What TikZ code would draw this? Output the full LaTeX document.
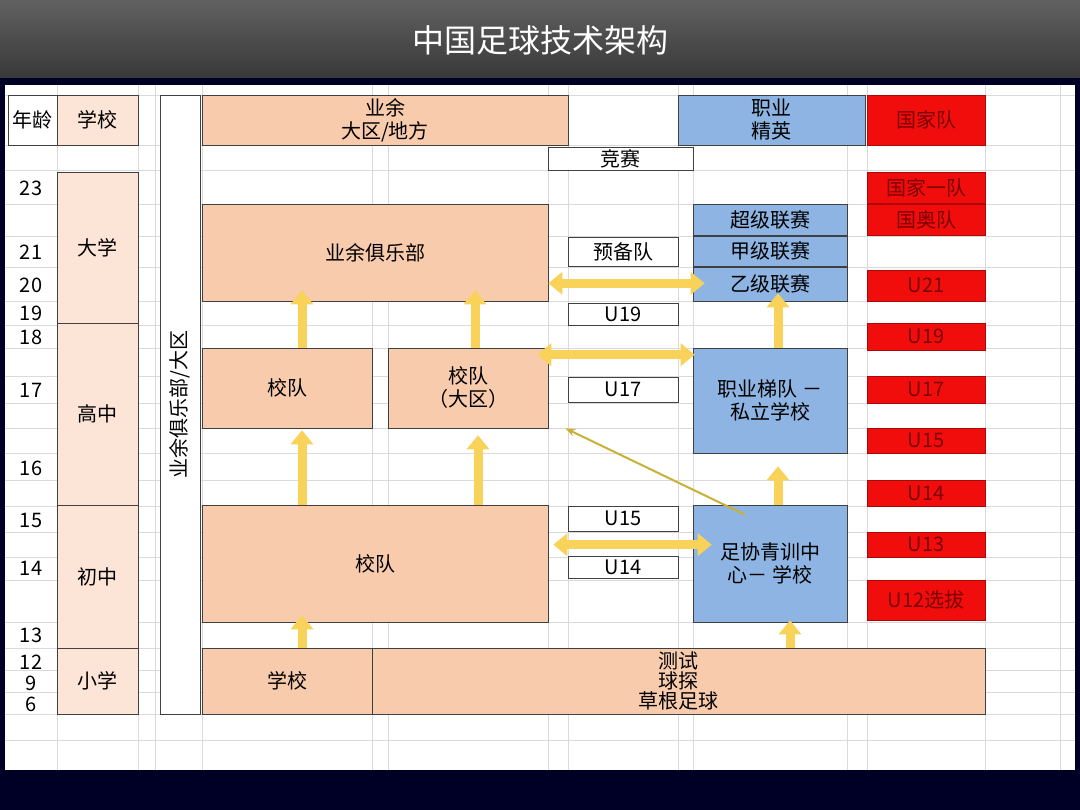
\documentclass[tikz,border=0pt]{standalone}
\usepackage{fontspec}
\newfontfamily\cjk{Noto Sans CJK SC}
\usetikzlibrary{arrows.meta}
\definecolor{peach}{HTML}{F8CBAD}
\definecolor{peachlt}{HTML}{FCE4D6}
\definecolor{problue}{HTML}{8DB4E2}
\definecolor{natred}{HTML}{F20D0D}
\definecolor{darkred}{HTML}{7A0000}
\definecolor{gold}{HTML}{F9D25A}
\definecolor{gridgray}{HTML}{DADADA}

\tikzset{
  cellbox/.style={rectangle, draw=black!75, line width=0.6pt, inner sep=0pt, align=center, font=\cjk\fontsize{20}{23}\selectfont},
  amateur/.style={cellbox, fill=peach},
  schoolcell/.style={cellbox, fill=peachlt},
  pro/.style={cellbox, fill=problue},
  national/.style={cellbox, fill=natred, draw=natred!70!black, text=darkred},
  league/.style={cellbox, fill=white},
  agelabel/.style={font=\cjk\fontsize{20}{23}\selectfont},
  fatup/.style={draw=gold, line width=9pt, -{Triangle[length=14pt, width=22pt]}},
  fatboth/.style={draw=gold, line width=9pt, {Triangle[length=14pt, width=22pt]}-{Triangle[length=14pt, width=22pt]}},
  thinarrow/.style={draw=gold!60!olive, line width=2pt, -{Stealth[length=10pt]}}
}
% cell from left/top to right/bottom in pixels
\newcommand\cell[7]{\node[#1, minimum width={(#5-#3)*1pt}, minimum height={(#6-#4)*1pt}] (#2) at ({(#3+#5)/2},{(#4+#6)/2}) {#7};}

\begin{document}
\begin{tikzpicture}[x=1pt, y=-1pt]
\useasboundingbox (0,0) rectangle (1080,810);
\fill[black!85!blue] (0,0) rectangle (1080,810);
\shade[top color=black!62, bottom color=black!78] (0,0) rectangle (1080,78);
\node[text=white, font=\cjk\fontsize{32}{36}\selectfont] (title) at (540,40) {中国足球技术架构};

% sheet and grid
\fill[white] (5,85) rectangle (1075,770);
\foreach \gx in {57,138,155,202,372,388,548,568,678,693,847,867,985,1060}
  \draw[gridgray, line width=0.5pt] (\gx,85) -- (\gx,770);
\foreach \gy in {95,145,170,204,236,267,301,325,348,376,403,428,453,480,506,532,557,580,622,648,670,692,714,740}
  \draw[gridgray, line width=0.5pt] (5,\gy) -- (1075,\gy);

% header row
\cell{league}{age}{8}{95}{57}{145}{年龄}
\cell{schoolcell}{school}{57}{95}{138}{145}{学校}
\cell{amateur}{amhead}{202}{95}{568}{145}{业余\\大区/地方}
\cell{pro}{prohead}{678}{95}{865}{145}{职业\\精英}
\cell{national}{nathead}{867}{95}{985}{145}{国家队}
\cell{league}{comp}{548}{147}{693}{170}{竞赛}

% ages
\foreach \a/\ay in {23/188,21/252,20/285,19/313,18/337,17/390,16/468,15/520,14/568,13/635,12/662,9/683,6/704}
  \node[agelabel] (age\a) at (31,\ay) {\a};

% school levels
\cell{schoolcell}{uni}{57}{172}{138}{323}{大学}
\cell{schoolcell}{high}{57}{323}{138}{505}{高中}
\cell{schoolcell}{middle}{57}{505}{138}{648}{初中}
\cell{schoolcell}{primary}{57}{648}{138}{714}{小学}
\node[cellbox, fill=white, minimum width=619pt, minimum height=40pt, rotate=90] (region) at (180,404.5) {业余俱乐部/大区};

% amateur side
\cell{amateur}{club}{202}{204}{548}{301}{业余俱乐部}
\cell{amateur}{xdleft}{202}{348}{372}{428}{校队}
\cell{amateur}{xdregion}{388}{348}{548}{428}{校队\\（大区）}
\cell{amateur}{xdmid}{202}{505}{548}{622}{校队}
\cell{amateur}{base}{202}{648}{372}{714}{学校}
\node[cellbox, fill=peach, minimum width=613pt, minimum height=66pt, font=\cjk\fontsize{20}{20}\selectfont] (grass) at (678.5,681) {测试\\球探\\草根足球};

% competitions
\cell{league}{reserve}{568}{237}{678}{266}{预备队}
\cell{league}{cu19}{568}{303}{678}{325}{U19}
\cell{league}{cu17}{568}{377}{678}{402}{U17}
\cell{league}{cu15}{568}{506}{678}{531}{U15}
\cell{league}{cu14}{568}{556}{678}{578}{U14}

% professional side
\cell{pro}{super}{693}{204}{847}{235}{超级联赛}
\cell{pro}{first}{693}{236}{847}{266}{甲级联赛}
\cell{pro}{second}{693}{267}{847}{301}{乙级联赛}
\cell{pro}{academy}{693}{348}{847}{453}{职业梯队 －\\私立学校}
\cell{pro}{youth}{693}{505}{847}{622}{足协青训中\\心－ 学校}

% national teams
\cell{national}{nat1}{867}{172}{985}{203}{国家一队}
\cell{national}{olymp}{867}{204}{985}{235}{国奥队}
\cell{national}{nu21}{867}{270}{985}{301}{U21}
\cell{national}{nu19}{867}{323}{985}{350}{U19}
\cell{national}{nu17}{867}{376}{985}{403}{U17}
\cell{national}{nu15}{867}{428}{985}{453}{U15}
\cell{national}{nu14}{867}{480}{985}{506}{U14}
\cell{national}{nu13}{867}{532}{985}{557}{U13}
\cell{national}{nu12}{867}{580}{985}{620}{U12选拔}

% arrows
\draw[fatup] ([xshift=15pt]xdleft.north) -- ([xshift=15pt, yshift=11pt]xdleft.north |- club.south);
\draw[fatup] ([xshift=7pt]xdregion.north) -- ([xshift=7pt, yshift=11pt]xdregion.north |- club.south);
\draw[fatup] ([xshift=-73pt]xdmid.north) -- ([xshift=15pt, yshift=-2pt]xdleft.south);
\draw[fatup] ([xshift=103pt]xdmid.north) -- ([xshift=10pt, yshift=-7pt]xdregion.south);
\draw[fatup] ([xshift=15pt]base.north) -- ([xshift=-73pt, yshift=7pt]xdmid.south);
\draw[fatup] ([xshift=20pt]youth.south |- grass.north) -- ([xshift=20pt, yshift=2pt]youth.south);
\draw[fatup] ([xshift=8pt]youth.north) -- ([xshift=8pt, yshift=-13pt]academy.south);
\draw[fatup] ([xshift=8pt]academy.north) -- ([xshift=8pt, yshift=8pt]second.south);
\draw[fatboth] ([yshift=18pt]club.south east) -- ([xshift=12pt, yshift=18pt]second.south west);
\draw[fatboth] ([xshift=-11pt, yshift=-7pt]xdregion.north east) -- ([xshift=2pt, yshift=-7pt]academy.north west);
\draw[fatboth] ([xshift=5pt, yshift=-40pt]xdmid.north east) -- ([xshift=19pt, yshift=-40pt]youth.north west);
\draw[thinarrow] ([xshift=-25pt, yshift=-10pt]youth.north) -- ([xshift=17pt]xdregion.south east);
\end{tikzpicture}
\end{document}
